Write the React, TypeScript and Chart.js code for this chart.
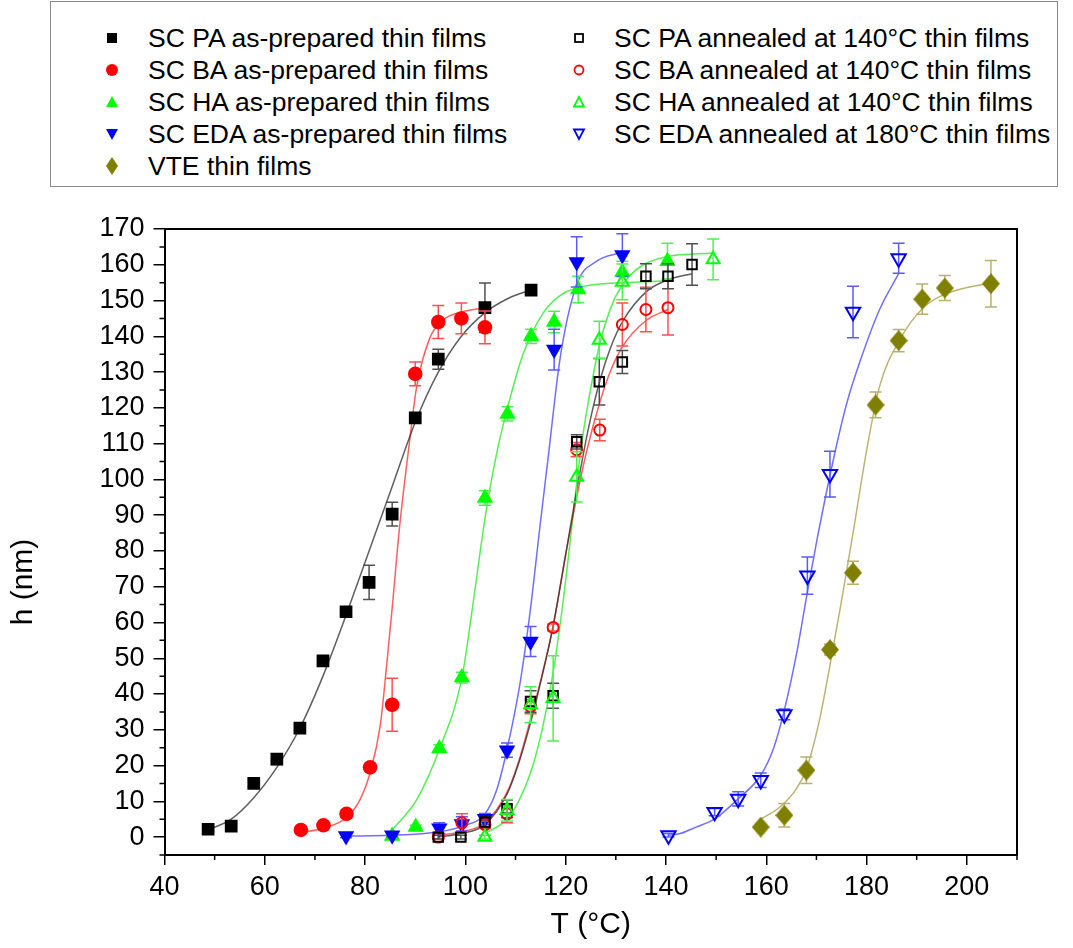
import React, { useEffect, useRef } from 'react';
import { Chart, registerables } from 'chart.js';
Chart.register(...registerables);

const FONT = '"Liberation Sans", Arial, Helvetica, sans-serif';

// ---- axis ticks ----
const xMajorTicks = [40, 60, 80, 100, 120, 140, 160, 180, 200];
const xMinorTicks = [50, 70, 90, 110, 130, 150, 170, 190, 210];
const yMajorTicks = [0, 10, 20, 30, 40, 50, 60, 70, 80, 90, 100, 110, 120, 130, 140, 150, 160, 170];
const yMinorTicks = [-5, 5, 15, 25, 35, 45, 55, 65, 75, 85, 95, 105, 115, 125, 135, 145, 155, 165];

// ---- measured points ----
const paAsT = [48.7, 53.3, 57.8, 62.4, 67.0, 71.6, 76.2, 80.8, 85.4, 90.0, 94.6, 103.9, 113.1];
const paAsH = [2.2, 3.1, 15.0, 21.8, 30.5, 49.3, 63.0, 71.2, 90.3, 117.2, 133.6, 148.0, 152.9];
const paAsErr = [0.5, 0.5, 1, 1.5, 1, 1, 1, 4.8, 3.3, 1, 2.8, 6.9, 1];

const baAsT = [67.2, 71.7, 76.3, 81.0, 85.4, 90.0, 94.6, 99.2, 103.9];
const baAsH = [2.0, 3.3, 6.5, 19.5, 37.0, 129.5, 144.0, 145.0, 142.5];
const baAsErr = [0.5, 0.5, 1, 1, 7.4, 3.3, 4.6, 4.3, 4.6];

const haAsT = [85.4, 90.1, 94.8, 99.3, 103.9, 108.4, 113.1, 117.7, 122.5, 131.3, 140.3];
const haAsH = [0.3, 2.8, 24.8, 44.6, 94.8, 118.3, 140.0, 144.0, 153.1, 158.0, 161.0];
const haAsErr = [0.5, 0.5, 1, 1.5, 2, 2, 2, 3, 3.7, 3, 5];

const edaAsT = [76.2, 85.4, 94.8, 99.3, 103.9, 108.3, 113.0, 117.7, 122.2, 131.3];
const edaAsH = [0.3, 0.5, 2.5, 3.7, 5.1, 24.3, 54.7, 136.3, 160.8, 162.7];
const edaAsErr = [0.5, 0.5, 1.5, 2, 1.5, 2, 4.2, 5.7, 7, 6];

const paAnT = [94.6, 99.1, 103.9, 108.3, 113.0, 117.5, 122.2, 126.7, 131.3, 136.0, 140.4, 145.2];
const paAnH = [0, 0, 4.2, 7.9, 37.9, 39.5, 110.5, 127.3, 132.8, 156.8, 156.8, 160.1];
const paAnErr = [0.5, 0.5, 1.5, 2.5, 3, 3.5, 2, 6.5, 3.2, 3.5, 3.5, 5.8];

const baAnT = [94.6, 99.3, 103.9, 108.3, 113.0, 117.5, 122.2, 126.8, 131.3, 136.0, 140.4];
const baAnH = [0, 4, 3.5, 6.5, 36.5, 58.6, 108.3, 113.8, 143.3, 147.5, 148.0];
const baAnErr = [0.5, 2.5, 1, 2.5, 2, 1, 2, 3, 6, 6.2, 7.6];

const haAnT = [103.9, 108.3, 113.0, 117.5, 122.2, 126.7, 131.3, 149.4];
const haAnH = [0, 7.5, 37.0, 38.8, 100.7, 139.0, 155.2, 161.5];
const haAnErr = [0.5, 3, 5, 11.9, 7, 5.2, 5, 5.7];

const edaAnT = [140.5, 149.7, 154.4, 158.9, 163.6, 168.2, 172.7, 177.3, 186.4];
const edaAnH = [0.5, 7.0, 10.7, 15.9, 34.3, 73.1, 101.5, 146.8, 161.8];
const edaAnErr = [0.5, 1, 2, 2, 1.5, 5.2, 6.4, 7.2, 4.2];

const vteT = [158.9, 163.6, 168.0, 172.7, 177.3, 181.8, 186.4, 191.1, 195.6, 204.8];
const vteH = [2.8, 6.1, 18.7, 52.4, 73.9, 120.8, 138.8, 150.4, 153.5, 154.7];
const vteErr = [0.5, 3.3, 3.7, 1.5, 3.2, 3.6, 3.1, 4.2, 3.5, 6.5];

// ---- fitted curves ----
const fitPaAsT = [48.7, 53.3, 57.8, 62.4, 67.0, 71.6, 76.2, 80.8, 85.4, 90.0, 94.6, 99.2, 103.8, 108.4, 113.1];
const fitPaAsH = [2.0, 5.0, 11.0, 19.5, 30.5, 45.0, 62.0, 80.0, 98.0, 116.0, 130.0, 140.0, 146.5, 150.5, 153.0];

const fitBaAsT = [67.2, 71.7, 76.3, 79.0, 81.0, 83.0, 84.3, 85.4, 86.9, 88.9, 90.3, 92.9, 95.5, 99.2, 103.9];
const fitBaAsH = [1.3, 2.5, 5.5, 10.5, 18.0, 31.0, 48.0, 64.0, 87.0, 111.0, 126.0, 139.5, 144.5, 146.8, 148.0];

const fitHaAsT = [85.4, 90.3, 94.8, 99.3, 101.6, 103.9, 106.2, 108.4, 111.5, 115.5, 119.0, 122.2, 126.0, 131.3, 140.3];
const fitHaAsH = [2.0, 10.5, 24.5, 44.5, 66.0, 89.0, 107.0, 120.0, 135.0, 146.5, 151.5, 153.5, 154.5, 155.0, 155.5];

const fitEdaAsT = [76.2, 85.4, 94.8, 99.3, 103.9, 106.2, 108.3, 110.9, 113.0, 114.8, 116.5, 118.9, 122.2, 126.2, 131.3];
const fitEdaAsH = [0.3, 0.5, 1.5, 3.0, 6.5, 13.0, 24.5, 43.0, 64.0, 86.0, 106.0, 134.0, 154.5, 161.0, 163.5];

const fitPaAnT = [94.6, 99.1, 103.9, 108.3, 110.6, 113.0, 115.3, 117.5, 120.0, 122.2, 124.5, 126.8, 129.0, 131.5, 136.1, 140.8, 145.2];
const fitPaAnH = [0.0, 1.0, 3.5, 12.0, 20.5, 32.0, 45.0, 59.0, 79.0, 97.0, 114.0, 127.5, 137.0, 144.5, 152.5, 156.0, 157.5];

const fitBaAnT = [94.6, 99.3, 103.9, 108.3, 110.6, 113.0, 115.3, 117.5, 120.0, 122.2, 124.2, 126.8, 129.0, 131.5, 136.1, 140.4];
const fitBaAnH = [0.5, 1.5, 4.0, 12.5, 21.0, 33.0, 45.5, 59.0, 79.0, 95.0, 108.0, 121.5, 130.5, 137.5, 144.5, 147.5];

const fitHaAnT = [103.9, 108.3, 110.6, 113.0, 115.3, 117.5, 119.5, 121.0, 122.2, 123.5, 125.2, 126.8, 128.5, 130.1, 132.8, 135.5, 140.3, 149.4];
const fitHaAnH = [1.0, 5.0, 10.0, 18.0, 30.0, 46.0, 66.0, 84.0, 99.0, 113.0, 127.0, 138.0, 146.0, 151.5, 157.0, 160.0, 162.3, 163.3];

const fitEdaAnT = [140.5, 142.8, 146.0, 149.7, 154.4, 158.9, 161.5, 163.6, 166.0, 168.2, 170.1, 173.3, 176.0, 178.7, 182.6, 186.4];
const fitEdaAnH = [0.5, 1.0, 2.8, 5.1, 10.7, 17.3, 25.0, 35.5, 51.0, 68.5, 83.0, 105.0, 121.0, 133.0, 147.5, 157.5];

const fitVteT = [158.9, 162.8, 166.0, 168.0, 170.5, 172.7, 175.0, 177.3, 180.0, 182.6, 186.6, 191.3, 196.0, 204.8];
const fitVteH = [5.0, 8.5, 13.5, 19.0, 32.0, 48.0, 66.0, 85.0, 108.0, 126.0, 139.0, 148.0, 152.0, 155.0];

// ---- labels ----
const seriesLabels = [
  'SC PA as-prepared thin films',
  'SC BA as-prepared thin films',
  'SC HA as-prepared thin films',
  'SC EDA as-prepared thin films',
  'VTE thin films',
  'SC PA annealed at 140°C thin films',
  'SC BA annealed at 140°C thin films',
  'SC HA annealed at 140°C thin films',
  'SC EDA annealed at 180°C thin films',
];

const BLACK = '#000000';
const RED = '#ff0000';
const GREEN = '#00ff00';
const BLUE = '#0000ff';
const OLIVE = '#808000';

function makeDiamond(w: number, h: number, color: string) {
  const c = document.createElement('canvas');
  c.width = w;
  c.height = h;
  const g = c.getContext('2d')!;
  g.fillStyle = color;
  g.beginPath();
  g.moveTo(w / 2, 0);
  g.lineTo(w, h / 2);
  g.lineTo(w / 2, h);
  g.lineTo(0, h / 2);
  g.closePath();
  g.fill();
  return c;
}

const pts = (t: number[], h: number[]) => t.map((v, i) => ({ x: v, y: h[i] }));

const decorPlugin = {
  id: 'decor',
  beforeDatasetDraw(chart: any, args: any) {
    const ds = chart.data.datasets[args.index];
    if (!ds.errors) return;
    const ctx = chart.ctx;
    const xs = chart.scales.x;
    const ys = chart.scales.y;
    ctx.save();
    ctx.strokeStyle = ds.errorColor;
    ctx.lineWidth = 1.5;
    ds.data.forEach((p: any, i: number) => {
      const e = ds.errors[i];
      if (!e) return;
      const px = xs.getPixelForValue(p.x);
      const yt = ys.getPixelForValue(p.y + e);
      const yb = ys.getPixelForValue(p.y - e);
      ctx.beginPath();
      ctx.moveTo(px, yt);
      ctx.lineTo(px, yb);
      ctx.moveTo(px - 6, yt);
      ctx.lineTo(px + 6, yt);
      ctx.moveTo(px - 6, yb);
      ctx.lineTo(px + 6, yb);
      ctx.stroke();
    });
    ctx.restore();
  },
  afterDraw(chart: any) {
    const ctx = chart.ctx;
    const { left, right, top, bottom } = chart.chartArea;
    const xs = chart.scales.x;
    const ys = chart.scales.y;
    ctx.save();
    ctx.strokeStyle = '#000';
    ctx.lineWidth = 2;
    ctx.beginPath();
    ctx.moveTo(left, top);
    ctx.lineTo(right, top);
    ctx.lineTo(right, bottom);
    ctx.stroke();
    ctx.lineWidth = 1.5;
    ctx.beginPath();
    xMinorTicks.forEach((v) => {
      const px = xs.getPixelForValue(v);
      ctx.moveTo(px, bottom);
      ctx.lineTo(px, bottom + 5);
    });
    yMinorTicks.forEach((v) => {
      const py = ys.getPixelForValue(v);
      ctx.moveTo(left, py);
      ctx.lineTo(left - 5, py);
    });
    ctx.stroke();
    // y axis title
    ctx.translate(24, 392);
    ctx.rotate(-Math.PI / 2);
    ctx.fillStyle = '#000';
    ctx.font = `30px ${FONT}`;
    ctx.textAlign = 'center';
    ctx.textBaseline = 'middle';
    ctx.fillText('h (nm)', 0, 0);
    ctx.restore();
  },
};

function LegendMarker({ kind }: { kind: string }) {
  const s = 22;
  const c = s / 2;
  let el: any = null;
  switch (kind) {
    case 'sqF':
      el = <rect x={c - 5} y={c - 5} width={10} height={10} fill={BLACK} />;
      break;
    case 'ciF':
      el = <circle cx={c} cy={c} r={6} fill={RED} />;
      break;
    case 'upF':
      el = <polygon points={`${c},${c - 6} ${c + 6},${c + 5} ${c - 6},${c + 5}`} fill={GREEN} />;
      break;
    case 'dnF':
      el = <polygon points={`${c - 6},${c - 5} ${c + 6},${c - 5} ${c},${c + 6}`} fill={BLUE} />;
      break;
    case 'di':
      el = <polygon points={`${c},${c - 9} ${c + 6},${c} ${c},${c + 9} ${c - 6},${c}`} fill={OLIVE} />;
      break;
    case 'sqO':
      el = <rect x={c - 4} y={c - 4} width={8} height={8} fill="none" stroke={BLACK} strokeWidth={1.8} />;
      break;
    case 'ciO':
      el = <circle cx={c} cy={c} r={4.5} fill="none" stroke={RED} strokeWidth={1.8} />;
      break;
    case 'upO':
      el = <polygon points={`${c},${c - 5} ${c + 5},${c + 4.5} ${c - 5},${c + 4.5}`} fill="none" stroke={GREEN} strokeWidth={1.8} />;
      break;
    case 'dnO':
      el = <polygon points={`${c - 5},${c - 4.5} ${c + 5},${c - 4.5} ${c},${c + 5}`} fill="none" stroke={BLUE} strokeWidth={1.8} />;
      break;
  }
  return (
    <svg width={s} height={s} style={{ position: 'absolute', left: -11, top: -11 }}>
      {el}
    </svg>
  );
}

const legendCol1 = [
  { kind: 'sqF', label: seriesLabels[0] },
  { kind: 'ciF', label: seriesLabels[1] },
  { kind: 'upF', label: seriesLabels[2] },
  { kind: 'dnF', label: seriesLabels[3] },
  { kind: 'di', label: seriesLabels[4] },
];
const legendCol2 = [
  { kind: 'sqO', label: seriesLabels[5] },
  { kind: 'ciO', label: seriesLabels[6] },
  { kind: 'upO', label: seriesLabels[7] },
  { kind: 'dnO', label: seriesLabels[8] },
];

export default function App() {
  const ref = useRef<HTMLCanvasElement>(null);

  useEffect(() => {
    const canvas = ref.current!;
    const diamond = makeDiamond(18, 21, OLIVE);

    const scatter = (
      label: string, t: number[], h: number[], err: number[], pointStyle: any, radius: number,
      color: string, filled: boolean, errorColor: string, order: number, rotation = 0,
    ) => ({
      type: 'scatter',
      label,
      data: pts(t, h),
      errors: err,
      errorColor,
      pointStyle,
      pointRadius: radius,
      pointRotation: rotation,
      pointBackgroundColor: filled ? color : 'rgba(0,0,0,0)',
      pointBorderColor: color,
      pointBorderWidth: filled ? 0 : 2,
      showLine: false,
      order,
    });
    const fit = (t: number[], h: number[], color: string) => ({
      type: 'scatter',
      data: pts(t, h),
      showLine: true,
      borderColor: color,
      borderWidth: 1.5,
      pointRadius: 0,
      cubicInterpolationMode: 'monotone',
      fill: false,
      order: 20,
    });

    const datasets: any[] = [
      scatter(seriesLabels[0], paAsT, paAsH, paAsErr, 'rect', 9, BLACK, true, '#505050', 9),
      scatter(seriesLabels[1], baAsT, baAsH, baAsErr, 'circle', 7.3, RED, true, '#ff5050', 8),
      scatter(seriesLabels[2], haAsT, haAsH, haAsErr, 'triangle', 9.5, GREEN, true, '#50f050', 7),
      scatter(seriesLabels[3], edaAsT, edaAsH, edaAsErr, 'triangle', 9.5, BLUE, true, '#5a5aff', 6, 180),
      scatter(seriesLabels[6], baAnT, baAnH, baAnErr, 'circle', 5.5, RED, false, '#ff5050', 5),
      scatter(seriesLabels[5], paAnT, paAnH, paAnErr, 'rect', 6.7, BLACK, false, '#505050', 4),
      scatter(seriesLabels[7], haAnT, haAnH, haAnErr, 'triangle', 7.5, GREEN, false, '#50f050', 3),
      scatter(seriesLabels[8], edaAnT, edaAnH, edaAnErr, 'triangle', 8.3, BLUE, false, '#5a5aff', 2, 180),
      scatter(seriesLabels[4], vteT, vteH, vteErr, diamond, 9, OLIVE, true, '#b8b068', 1),
      fit(fitPaAsT, fitPaAsH, 'rgba(40,40,40,0.75)'),
      fit(fitBaAsT, fitBaAsH, 'rgba(255,40,40,0.75)'),
      fit(fitHaAsT, fitHaAsH, 'rgba(40,235,40,0.8)'),
      fit(fitEdaAsT, fitEdaAsH, 'rgba(50,50,255,0.7)'),
      fit(fitPaAnT, fitPaAnH, 'rgba(40,40,40,0.75)'),
      fit(fitBaAnT, fitBaAnH, 'rgba(255,40,40,0.75)'),
      fit(fitHaAnT, fitHaAnH, 'rgba(40,235,40,0.8)'),
      fit(fitEdaAnT, fitEdaAnH, 'rgba(50,50,255,0.7)'),
      fit(fitVteT, fitVteH, 'rgba(150,140,40,0.65)'),
    ];

    const chart = new Chart(canvas, {
      type: 'scatter',
      data: { datasets },
      options: {
        responsive: false,
        maintainAspectRatio: false,
        animation: false,
        events: [],
        layout: { padding: { top: 39, right: 56, bottom: 0, left: 0 } },
        plugins: { legend: { display: false }, tooltip: { enabled: false } },
        scales: {
          x: {
            type: 'linear',
            min: 40,
            max: 210,
            afterBuildTicks: (s: any) => { s.ticks = xMajorTicks.map((v) => ({ value: v })); },
            afterFit: (s: any) => { s.height = 93; },
            border: { display: true, color: '#000', width: 2 },
            grid: { display: true, drawOnChartArea: false, drawTicks: true, tickLength: 10, color: '#000', lineWidth: 1.5 },
            ticks: { font: { family: FONT, size: 27 }, color: '#000', padding: 6, maxRotation: 0 },
            title: { display: true, text: 'T (°C)', font: { family: FONT, size: 30 }, color: '#000', padding: { top: 0, bottom: 5 } },
          },
          y: {
            type: 'linear',
            min: -5,
            max: 170,
            afterBuildTicks: (s: any) => { s.ticks = yMajorTicks.map((v) => ({ value: v })); },
            afterFit: (s: any) => { s.width = 164.5; },
            border: { display: true, color: '#000', width: 2 },
            grid: { display: true, drawOnChartArea: false, drawTicks: true, tickLength: 11, color: '#000', lineWidth: 1.5 },
            ticks: { font: { family: FONT, size: 27 }, color: '#000', padding: 9 },
            title: { display: false },
          },
        },
      } as any,
      plugins: [decorPlugin as any],
    });
    return () => chart.destroy();
  }, []);

  const rowY = [38, 70, 102, 134, 166];
  const textStyle: React.CSSProperties = {
    position: 'absolute',
    fontSize: 26.5,
    lineHeight: '30px',
    whiteSpace: 'nowrap',
    color: '#000',
  };

  return (
    <div style={{ position: 'absolute', left: 0, top: 0, width: 1073, height: 948, background: '#fff', fontFamily: FONT, overflow: 'hidden' }}>
      <div
        style={{
          position: 'absolute', left: 50, top: 1, width: 1008, height: 186,
          border: '1.5px solid #8a8a8a', boxSizing: 'border-box',
        }}
      />
      {legendCol1.map((it, i) => (
        <React.Fragment key={'a' + i}>
          <div style={{ position: 'absolute', left: 112, top: rowY[i] }}>
            <LegendMarker kind={it.kind} />
          </div>
          <div style={{ ...textStyle, left: 148, top: rowY[i] - 15 }}>{it.label}</div>
        </React.Fragment>
      ))}
      {legendCol2.map((it, i) => (
        <React.Fragment key={'b' + i}>
          <div style={{ position: 'absolute', left: 579, top: rowY[i] }}>
            <LegendMarker kind={it.kind} />
          </div>
          <div style={{ ...textStyle, left: 614, top: rowY[i] - 15 }}>{it.label}</div>
        </React.Fragment>
      ))}
      <canvas
        ref={ref}
        width={1073}
        height={758}
        style={{ position: 'absolute', left: 0, top: 190, width: 1073, height: 758, display: 'block' }}
      />
    </div>
  );
}
